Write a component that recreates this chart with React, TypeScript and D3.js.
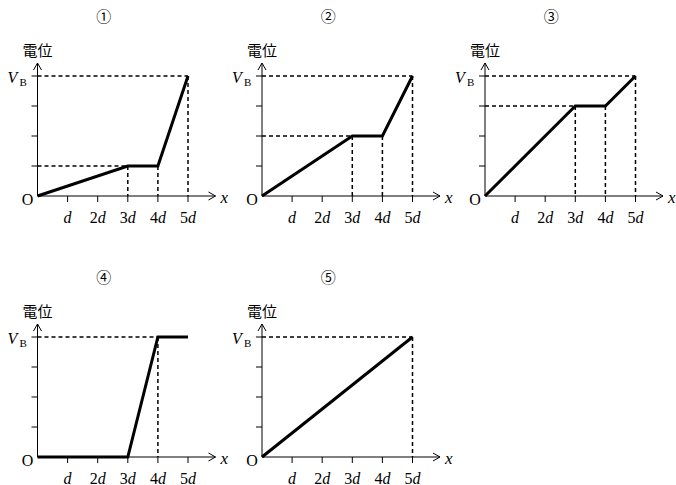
import React from 'react';
import * as d3 from 'd3';

// break points of each graph: x in units of d, potential in quarters of V_B
const panelLabels = ['①', '②', '③', '④', '⑤'];
const xSteps = [
  [0, 3, 4, 5],
  [0, 3, 4, 5],
  [0, 3, 4, 5],
  [0, 3, 4, 5],
  [0, 5]
];
const potentials = [
  [0, 1, 1, 4],
  [0, 2, 2, 4],
  [0, 3, 3, 4],
  [0, 0, 4, 4],
  [0, 4]
];
// which break points get the dashed guide lines
const guideSteps = [[3, 4, 5], [3, 4, 5], [3, 4, 5], [4], [5]];
const xTickLabels = ['d', '2d', '3d', '4d', '5d'];
const yTickValues = [1, 2, 3, 4];

const origins = [
  [37.5, 196], [262, 196], [485, 196],
  [37.5, 457], [262, 457]
];

const width = 676;
const height = 485;
const serif = '"Liberation Serif", "DejaVu Serif", serif';

const x = d3.scaleLinear().domain([0, 5]).range([0, 150.5]);
const y = d3.scaleLinear().domain([0, 4]).range([0, -120]);

const Panel = ({ i }: { i: number }) => {
  const [ox, oy] = origins[i];
  const pts: [number, number][] = xSteps[i].map((s, k) => [s, potentials[i][k]]);
  const line = d3.line<[number, number]>().x(d => x(d[0])).y(d => y(d[1]));
  const guides = pts.filter(p => guideSteps[i].includes(p[0]));
  const levels: number[] = [];
  guides.forEach(p => { if (!levels.includes(p[1])) levels.push(p[1]); });
  const axisTop = -133;
  const axisRight = 178;

  return (
    <g transform={`translate(${ox},${oy})`}>
      <text x={x(2.2)} y={-174} textAnchor='middle' fontSize={15}
        fontFamily='"Noto Sans CJK JP", "DejaVu Sans", sans-serif'>{panelLabels[i]}</text>
      {/* dashed guides */}
      <g stroke='#000' strokeWidth={1.5} strokeDasharray='4,3' fill='none'>
        {levels.map(l => {
          const first = d3.min(guides.filter(p => p[1] === l), p => p[0]) as number;
          return <line key={`h${l}`} x1={0} x2={x(first)} y1={y(l)} y2={y(l)} />;
        })}
        {guides.map(p => (
          <line key={`v${p[0]}`} x1={x(p[0])} x2={x(p[0])} y1={y(p[1])} y2={0} />
        ))}
      </g>
      {/* axes */}
      <g stroke='#000' strokeWidth={1} fill='none'>
        <line x1={0} x2={axisRight} y1={0} y2={0} />
        <line x1={0} x2={0} y1={0} y2={axisTop} />
        <polyline points={`${axisRight - 7},-4 ${axisRight},0 ${axisRight - 7},4`} />
        <polyline points={`-4,${axisTop + 7} 0,${axisTop} 4,${axisTop + 7}`} />
        {xTickLabels.map((t, k) => (
          <line key={t} x1={x(k + 1)} x2={x(k + 1)} y1={0} y2={6} />
        ))}
        {yTickValues.map(v => (
          <line key={v} x1={-6} x2={0} y1={y(v)} y2={y(v)} />
        ))}
      </g>
      <path d={line(pts) || ''} stroke='#000' strokeWidth={3} fill='none' strokeLinejoin='miter' />
      {/* labels */}
      <text x={-15} y={-140} fontSize={15}
        fontFamily='"Noto Sans CJK JP", sans-serif'>電位</text>
      <text x={-30} y={y(4) + 7} fontSize={16} fontStyle='italic' fontFamily={serif}>V</text>
      <text x={-18} y={y(4) + 10} fontSize={11} fontFamily={serif}>B</text>
      <text x={-10} y={9} fontSize={16} textAnchor='middle' fontFamily={serif}>O</text>
      <text x={axisRight + 5} y={7} fontSize={17} fontStyle='italic' fontFamily={serif}>x</text>
      {xTickLabels.map((t, k) => (
        <text key={t} x={x(k + 1)} y={27} fontSize={16} textAnchor='middle' fontFamily={serif}>
          {t.length > 1 ? <tspan>{t[0]}</tspan> : null}
          <tspan fontStyle='italic'>d</tspan>
        </text>
      ))}
    </g>
  );
};

export default function App() {
  return (
    <svg width={width} height={height} style={{ position: 'absolute', left: 0, top: 0, background: '#fff' }}>
      <rect width={width} height={height} fill='#fff' />
      {panelLabels.map((_, i) => <Panel key={i} i={i} />)}
    </svg>
  );
}
